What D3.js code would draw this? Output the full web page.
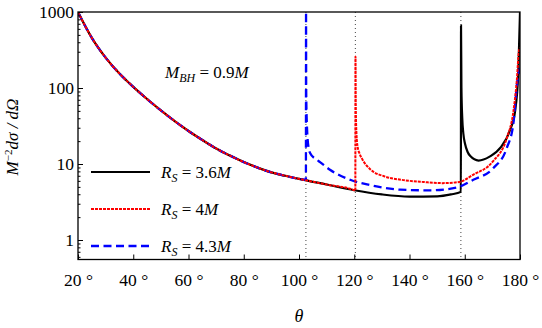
<!DOCTYPE html>
<head>
<meta charset="utf-8">
<style>
  body { margin: 0; background: #fff; }
  .it { font-style: italic; }
</style>
</head>
<body>
<svg id="chart" width="542" height="328" font-family="Liberation Serif"></svg>
<script src="https://cdnjs.cloudflare.com/ajax/libs/d3/7.8.5/d3.min.js"></script>
<script>
// common branch, shared by all three until each one's critical angle
const baseTheta = [20, 25, 30, 35, 40, 45, 50, 55, 60, 65, 70, 75, 80, 85, 90, 95, 100, 110, 120, 130, 140, 150, 155];
const baseValue = [1000, 457, 251, 155, 103.5, 71.6, 50.7, 36.7, 27.2, 20.7, 16.0, 12.9, 10.6, 8.96, 7.76, 7.0, 6.38, 5.37, 4.52, 3.98, 3.73, 3.76, 3.98];

// each series after its critical angle
const blackTheta = [158.6, 158.65, 158.8, 159.1, 159.5, 160.1, 161, 162, 165, 169, 173, 176.4, 178.2, 179.4, 180];
const blackValue = [4.3, 660, 100, 40, 25, 18.5, 14.5, 12.7, 11.1, 12.5, 16.5, 28, 49, 164, 1000];
const redTheta = [120.4, 120.45, 120.55, 120.8, 121.2, 122, 123, 126, 130.8, 137, 145, 152, 158, 163, 170.2, 175.2, 177.6, 178.8, 179.6, 180];
const redValue = [4.45, 259, 60, 25, 17, 13.5, 11.4, 8.4, 6.9, 6.2, 5.8, 5.6, 5.8, 7.2, 10.8, 21.8, 49, 120, 300, 340];
const blueTheta = [102.5, 102.55, 102.6, 102.8, 103.4, 104, 106.4, 107.6, 111.2, 118.5, 125.7, 136.6, 147.4, 157.1, 163.1, 170.3, 175.2, 177.6, 179, 179.6, 180];
const blueValue = [6.2, 1000, 100, 38, 17, 14, 11.4, 10.6, 8.4, 6.2, 5.3, 4.6, 4.5, 4.9, 6.2, 8.8, 16.2, 34, 120, 160, 185];

const criticalAngles = [102.5, 120.4, 158.6];
const xTicks = [20, 40, 60, 80, 100, 120, 140, 160, 180];
const yTicks = [1, 10, 100, 1000];
const seriesNames = ["3.6", "4", "4.3"];

const svg = d3.select("#chart");
const mLeft = 78, mRight = 520, mTop = 12, mBottom = 259.5;

const x = d3.scaleLinear().domain([20, 180]).range([mLeft, mRight]);
const y = d3.scaleLog().domain([0.554, 1000]).range([mBottom, mTop]);

function series(th, val) {
  const pts = [];
  baseTheta.forEach((t, i) => { if (t < th[0]) pts.push([t, baseValue[i]]); });
  th.forEach((t, i) => pts.push([t, val[i]]));
  return pts;
}

const line = d3.line()
  .x(d => x(d[0]))
  .y(d => y(d[1]))
  .curve(d3.curveMonotoneX);

svg.append("defs").append("clipPath").attr("id", "clip")
  .append("rect").attr("x", mLeft).attr("y", mTop)
  .attr("width", mRight - mLeft).attr("height", mBottom - mTop);

// dotted guides at critical angles
svg.append("g").selectAll("line").data(criticalAngles).join("line")
  .attr("x1", d => x(d)).attr("x2", d => x(d))
  .attr("y1", mTop).attr("y2", mBottom)
  .attr("stroke", "#444").attr("stroke-width", 1)
  .attr("stroke-dasharray", "1,3");

const black = { data: series(blackTheta, blackValue), color: "#000", width: 2.2, dash: null };
const red = { data: series(redTheta, redValue), color: "#ff0000", width: 2, dash: "3,1" };
const blue = { data: series(blueTheta, blueValue), color: "#0000ff", width: 2.3, dash: "8,4.5" };

const plot = svg.append("g").attr("clip-path", "url(#clip)");
[black, blue, red].forEach(s => {
  plot.append("path")
    .datum(s.data)
    .attr("d", line)
    .attr("fill", "none")
    .attr("stroke", s.color)
    .attr("stroke-width", s.width)
    .attr("stroke-dasharray", s.dash);
});

// frame
svg.append("rect")
  .attr("x", mLeft).attr("y", mTop)
  .attr("width", mRight - mLeft).attr("height", mBottom - mTop)
  .attr("fill", "none").attr("stroke", "#000").attr("stroke-width", 1.3);

// x axis
const xAxis = svg.append("g")
  .attr("transform", `translate(0,${mBottom})`)
  .call(d3.axisBottom(x).tickValues(xTicks).tickSize(-5).tickFormat(d => d + " °"));
xAxis.select(".domain").remove();
xAxis.selectAll("line").attr("stroke-width", 1);
xAxis.selectAll("text")
  .attr("y", 26).attr("dy", 0)
  .attr("font-size", 17.5);

// y axis (major + minor)
const minor = [];
[0.1, 1, 10, 100].forEach(p => { for (let k = 2; k <= 9; k++) if (p * k >= 0.554 && p * k <= 1000) minor.push(p * k); });
const yMinor = svg.append("g")
  .attr("transform", `translate(${mLeft},0)`)
  .call(d3.axisLeft(y).tickValues(minor).tickSize(-2.5).tickFormat(""));
yMinor.select(".domain").remove();

const yAxis = svg.append("g")
  .attr("transform", `translate(${mLeft},0)`)
  .call(d3.axisLeft(y).tickValues(yTicks).tickSize(-5).tickFormat(d3.format("d")));
yAxis.select(".domain").remove();
yAxis.selectAll("text")
  .attr("x", -4).attr("dy", "0.34em")
  .attr("font-size", 17.5);

// axis titles
const yt = svg.append("text")
  .attr("transform", "translate(18,137) rotate(-90)")
  .attr("text-anchor", "middle")
  .attr("font-size", 17);
yt.append("tspan").attr("class", "it").text("M");
yt.append("tspan").attr("dy", -6).attr("font-size", 11).text("−2");
yt.append("tspan").attr("dy", 6).attr("class", "it").text("dσ / dΩ");

svg.append("text")
  .attr("x", x(100)).attr("y", 322)
  .attr("text-anchor", "middle").attr("class", "it")
  .attr("font-size", 18)
  .text("θ");

// annotation
const ann = svg.append("text").attr("x", 165).attr("y", 78).attr("font-size", 17);
ann.append("tspan").attr("class", "it").text("M");
ann.append("tspan").attr("class", "it").attr("dy", 4).attr("font-size", 12).text("BH");
ann.append("tspan").attr("dy", -4).text(" = 0.9");
ann.append("tspan").attr("class", "it").text("M");

// legend
const legY = [172, 209, 246];
[black, red, blue].forEach((s, i) => {
  svg.append("line")
    .attr("x1", 91).attr("x2", 150)
    .attr("y1", legY[i]).attr("y2", legY[i])
    .attr("stroke", s.color).attr("stroke-width", s.width)
    .attr("stroke-dasharray", s.dash);
  const t = svg.append("text").attr("x", 161).attr("y", legY[i] + 6).attr("font-size", 17);
  t.append("tspan").attr("class", "it").text("R");
  t.append("tspan").attr("class", "it").attr("dy", 4).attr("font-size", 12).text("S");
  t.append("tspan").attr("dy", -4).text(" = " + seriesNames[i]);
  t.append("tspan").attr("class", "it").text("M");
});

svg.selectAll("g").attr("font-family", null);
svg.selectAll("text").attr("font-family", "Liberation Serif").attr("fill", "#000");
</script>
</body>
